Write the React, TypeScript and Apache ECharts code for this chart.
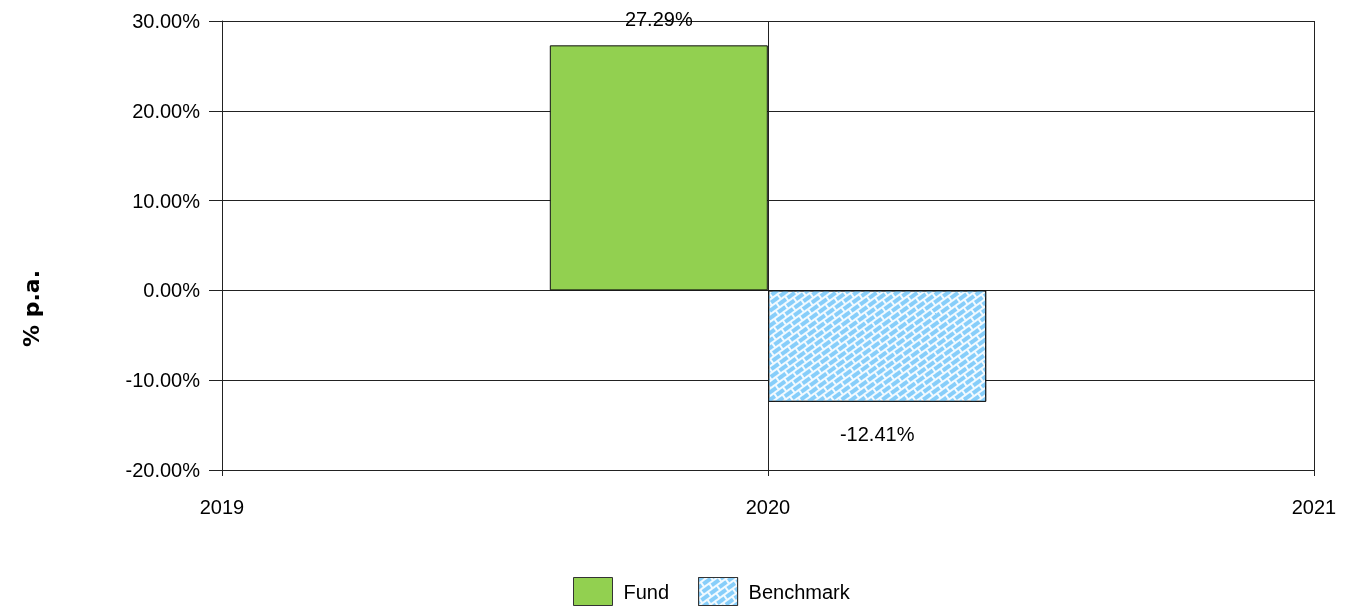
import React, { useEffect, useRef } from "react";
import * as echarts from "echarts";

const xTicks = [2019, 2020, 2021];
const fundData: [number, number][] = [[2019.8, 27.29]];
const benchData: [number, number][] = [[2020.2, -12.41]];
const seriesNames = ["Fund", "Benchmark"];
const yMin = -20;
const yMax = 30;
const yTitle = "% p.a.";

export default function App() {
  const ref = useRef<HTMLDivElement>(null);
  useEffect(() => {
    if (!ref.current) return;
    const chart = echarts.init(ref.current, null, { renderer: "svg" });
    const font = "Liberation Sans, Arial, sans-serif";
    chart.setOption({
      animation: false,
      textStyle: { fontFamily: font },
      grid: { left: 222, right: 31, top: 21, bottom: 137 },
      legend: {
        top: 577,
        left: 573,
        padding: 0,
        itemWidth: 39,
        itemHeight: 28,
        itemGap: 29,
        icon: "rect",
        itemStyle: { borderColor: "#333", borderWidth: 1 },
        textStyle: { fontSize: 20, color: "#000", fontFamily: font, padding: [0, 0, 0, 6] },
        data: seriesNames,
      },
      xAxis: {
        type: "value",
        min: xTicks[0],
        max: xTicks[xTicks.length - 1],
        interval: 1,
        axisLine: { onZero: false, lineStyle: { color: "#222", width: 1 } },
        axisTick: { show: true, length: 6, lineStyle: { color: "#222" } },
        axisLabel: { fontSize: 20, color: "#000", margin: 27, formatter: (v: number) => String(v) },
        splitLine: { show: true, lineStyle: { color: "#222", width: 1 } },
      },
      yAxis: {
        type: "value",
        min: yMin,
        max: yMax,
        interval: 10,
        name: yTitle,
        nameLocation: "middle",
        nameRotate: 90,
        nameGap: 180,
        nameTextStyle: {
          fontSize: 22,
          fontWeight: "bold",
          color: "#000",
          fontFamily: "DejaVu Sans",
          padding: [0, 126, 0, 0],
        },
        axisLine: { show: true, lineStyle: { color: "#222", width: 1 } },
        axisTick: { show: true, length: 13, lineStyle: { color: "#222" } },
        axisLabel: { fontSize: 20, color: "#000", margin: 22, formatter: (v: number) => v.toFixed(2) + "%" },
        splitLine: { show: true, lineStyle: { color: "#222", width: 1 } },
      },
      series: [
        {
          name: seriesNames[0],
          type: "bar",
          barWidth: 218,
          barGap: "-100%",
          data: fundData,
          itemStyle: { color: "#92D050", borderColor: "#111", borderWidth: 1 },
          label: {
            show: true,
            position: "top",
            distance: 16,
            fontSize: 20,
            color: "#000",
            formatter: (p: any) => p.value[1].toFixed(2) + "%",
          },
        },
        {
          name: seriesNames[1],
          type: "bar",
          barWidth: 218,
          barGap: "-100%",
          data: benchData,
          itemStyle: {
            color: "#F2FAFF",
            borderColor: "#111",
            borderWidth: 1,
            decal: {
              symbol: "rect",
              symbolSize: 1,
              color: "#87CEFA",
              dashArrayX: [[9, 2], [4, 2, 5, 0]],
              dashArrayY: [4, 2],
              rotation: -Math.PI / 5,
            },
          },
          label: {
            show: true,
            position: "bottom",
            distance: 22,
            fontSize: 20,
            color: "#000",
            formatter: (p: any) => p.value[1].toFixed(2) + "%",
          },
        },
      ],
    });
    return () => chart.dispose();
  }, []);
  return <div ref={ref} style={{ position: "fixed", left: 0, top: 0, width: 1345, height: 607 }} />;
}
